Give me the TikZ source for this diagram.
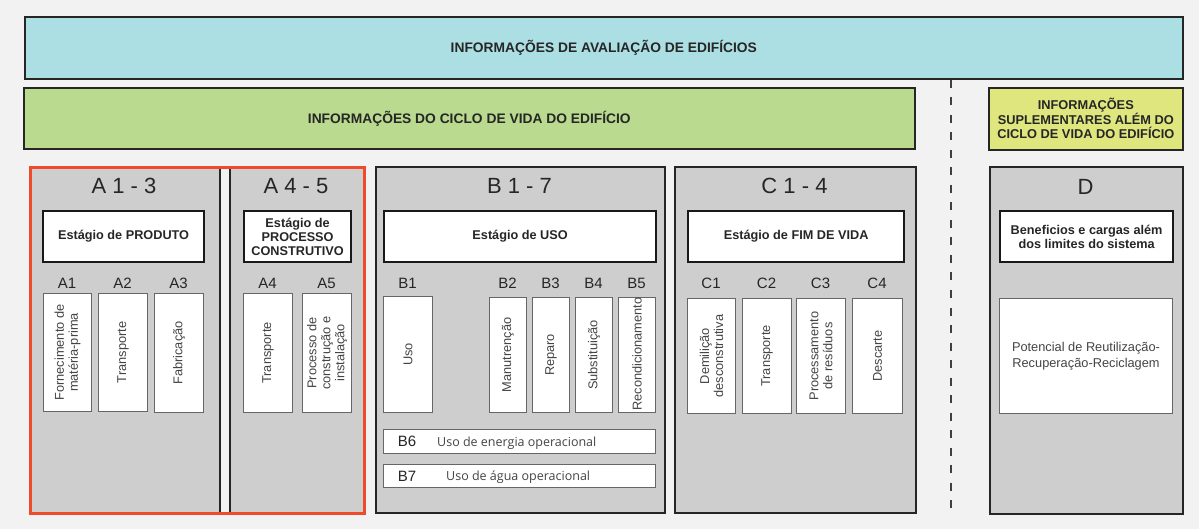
\documentclass[tikz,border=0pt]{standalone}
\usepackage{fontspec}
\setmainfont{Liberation Sans}
\newfontfamily\osans{Open Sans}
\definecolor{bgc}{HTML}{F2F2F2}
\definecolor{tealc}{HTML}{ACDFE3}
\definecolor{greenc}{HTML}{B9DA8F}
\definecolor{yellowc}{HTML}{DFE67E}
\definecolor{grayc}{HTML}{CECECE}
\definecolor{redc}{HTML}{EF4A2B}
\definecolor{txt}{HTML}{262626}
\definecolor{vtxt}{HTML}{444444}
\tikzset{
  band/.style={draw=black!85, line width=1.6pt, inner sep=0pt, anchor=north west,
    font=\fontsize{13.8}{16}\selectfont\bfseries, text=txt, align=center},
  stagebox/.style={draw=black!85, line width=1.6pt, fill=grayc, anchor=north west, inner sep=0pt},
  headbox/.style={draw=black!90, line width=2.2pt, fill=white, anchor=north west, inner sep=0pt,
    align=center, font=\fontsize{12.7}{14}\selectfont\bfseries, text=txt},
  subbox/.style={draw=black!60, line width=1pt, fill=white, anchor=north west, inner sep=0pt},
  vtext/.style={rotate=90, align=center, inner sep=0pt, font=\fontsize{12.8}{14}\selectfont, text=vtxt},
  codelbl/.style={font=\fontsize{15}{16}\selectfont, text=txt, inner sep=0pt, anchor=base},
  stagetitle/.style={font=\fontsize{22}{24}\selectfont, text=txt, inner sep=0pt, anchor=base},
  optext/.style={font=\osans\fontsize{12.5}{14}\selectfont, text=vtxt, inner sep=0pt, anchor=base west},
}
\begin{document}
\begin{tikzpicture}[x=1pt,y=-1pt]
\fill[bgc] (0,0) rectangle (1199,529);
\useasboundingbox (0,0) rectangle (1199,529);

% top bands
\node[band, fill=tealc, minimum width=1158pt, minimum height=62pt] (eval) at (24,16) {INFORMAÇÕES DE AVALIAÇÃO DE EDIFÍCIOS};
\node[band, fill=greenc, minimum width=891pt, minimum height=61pt] (life) at (23,87) {INFORMAÇÕES DO CICLO DE VIDA DO EDIFÍCIO};
\node[band, fill=yellowc, minimum width=194pt, minimum height=62pt, font=\fontsize{12.8}{14.5}\selectfont\bfseries] (supl) at (988,87) {INFORMAÇÕES\\SUPLEMENTARES ALÉM DO\\CICLO DE VIDA DO EDIFÍCIO};

% dashed separator
\coordinate (dtop) at (951,80);
\coordinate (dbot) at (951,512);
\draw[black!75, line width=2pt, dash pattern=on 8pt off 9.5pt] (dtop) -- (dbot);

% stage boxes
\node[stagebox, minimum width=190pt, minimum height=346pt] (A13) at (29,166) {};
\node[stagebox, minimum width=134pt, minimum height=346pt] (A45) at (229,166) {};
\node[stagebox, minimum width=289pt, minimum height=346pt] (B17) at (375,166) {};
\node[stagebox, minimum width=241pt, minimum height=346pt] (C14) at (674,166) {};
\node[stagebox, minimum width=193pt, minimum height=347pt] (D) at (989,166) {};
\node[draw=redc, line width=3pt, inner sep=0pt, anchor=north west, minimum width=334pt, minimum height=346pt] (redframe) at (29,166) {};

% stage titles
\node[stagetitle] (tA13) at (124,194) {A 1 - 3};
\node[stagetitle] (tA45) at (296,194) {A 4 - 5};
\node[stagetitle] (tB17) at (519.5,194) {B 1 - 7};
\node[stagetitle] (tC14) at (794.5,194) {C 1 - 4};
\node[stagetitle] (tD) at (1085.5,195) {D};

% stage header boxes
\node[headbox, minimum width=161pt, minimum height=51pt] (hA13) at (42,210) {Estágio de PRODUTO};
\node[headbox, minimum width=107pt, minimum height=51pt] (hA45) at (243,210) {Estágio de\\PROCESSO\\CONSTRUTIVO};
\node[headbox, minimum width=272pt, minimum height=51pt] (hB) at (383,210) {Estágio de USO};
\node[headbox, minimum width=216pt, minimum height=51pt] (hC) at (687,210) {Estágio de FIM DE VIDA};
\node[headbox, minimum width=173pt, minimum height=51pt] (hD) at (999,210) {Beneficios e cargas além\\dos limites do sistema};

% A sub-boxes
\node[subbox, minimum width=48pt, minimum height=118pt] (a1) at (43,293) {};
\node[subbox, minimum width=49pt, minimum height=118pt] (a2) at (98,293) {};
\node[subbox, minimum width=49pt, minimum height=119pt] (a3) at (154,293) {};
\node[subbox, minimum width=49pt, minimum height=119pt] (a4) at (243,293) {};
\node[subbox, minimum width=49pt, minimum height=119pt] (a5) at (302,293) {};
\node[vtext] at (a1.center) {Fornecimento de\\matéria-prima};
\node[vtext] at (a2.center) {Transporte};
\node[vtext] at (a3.center) {Fabricação};
\node[vtext] at (a4.center) {Transporte};
\node[vtext] at (a5.center) {Processo de\\construção e\\instalação};
\node[codelbl] (la1) at (67,288.5) {A1};
\node[codelbl] (la2) at (122.5,288.5) {A2};
\node[codelbl] (la3) at (178.5,288.5) {A3};
\node[codelbl] (la4) at (267.5,288.5) {A4};
\node[codelbl] (la5) at (326.5,288.5) {A5};

% B sub-boxes
\node[subbox, minimum width=49pt, minimum height=116pt] (b1) at (383,296) {};
\node[subbox, minimum width=37pt, minimum height=115pt] (b2) at (489,297) {};
\node[subbox, minimum width=37pt, minimum height=115pt] (b3) at (532,297) {};
\node[subbox, minimum width=37pt, minimum height=115pt] (b4) at (575,297) {};
\node[subbox, minimum width=37pt, minimum height=115pt] (b5) at (618,297) {};
\node[vtext] at (b1.center) {Uso};
\node[vtext] at (b2.center) {Manutrenção};
\node[vtext] at (b3.center) {Reparo};
\node[vtext] at (b4.center) {Substituição};
\node[vtext] at ([yshift=1pt]b5.center) {Recondicionamento};
\node[codelbl] (lb1) at (407.5,288.5) {B1};
\node[codelbl] (lb2) at (507.5,288.5) {B2};
\node[codelbl] (lb3) at (550.5,288.5) {B3};
\node[codelbl] (lb4) at (593.5,288.5) {B4};
\node[codelbl] (lb5) at (636.5,288.5) {B5};
\node[subbox, minimum width=272pt, minimum height=24pt] (b6) at (383,429) {};
\node[subbox, minimum width=272pt, minimum height=23pt] (b7) at (383,464) {};
\node[codelbl] (lb6) at (407,446.5) {B6};
\node[codelbl] (lb7) at (407,481) {B7};
\node[optext] (tb6) at (437,446) {Uso de energia operacional};
\node[optext] (tb7) at (446,480.5) {Uso de água operacional};

% C sub-boxes
\node[subbox, minimum width=48pt, minimum height=115pt] (c1) at (687,298) {};
\node[subbox, minimum width=49pt, minimum height=115pt] (c2) at (742,298) {};
\node[subbox, minimum width=49pt, minimum height=115pt] (c3) at (796,298) {};
\node[subbox, minimum width=50pt, minimum height=115pt] (c4) at (852,298) {};
\node[vtext] at (c1.center) {Demilição\\desconstrutiva};
\node[vtext] at (c2.center) {Transporte};
\node[vtext] at (c3.center) {Processamento\\de resíduos};
\node[vtext] at (c4.center) {Descarte};
\node[codelbl] (lc1) at (711,288.5) {C1};
\node[codelbl] (lc2) at (766.5,288.5) {C2};
\node[codelbl] (lc3) at (820.5,288.5) {C3};
\node[codelbl] (lc4) at (877,288.5) {C4};

% D sub-box
\node[subbox, minimum width=173pt, minimum height=115pt, align=center,
  font=\fontsize{12.8}{15.5}\selectfont, text=vtxt] (d1) at (999,298) {Potencial de Reutilização-\\Recuperação-Reciclagem};
\end{tikzpicture}
\end{document}
